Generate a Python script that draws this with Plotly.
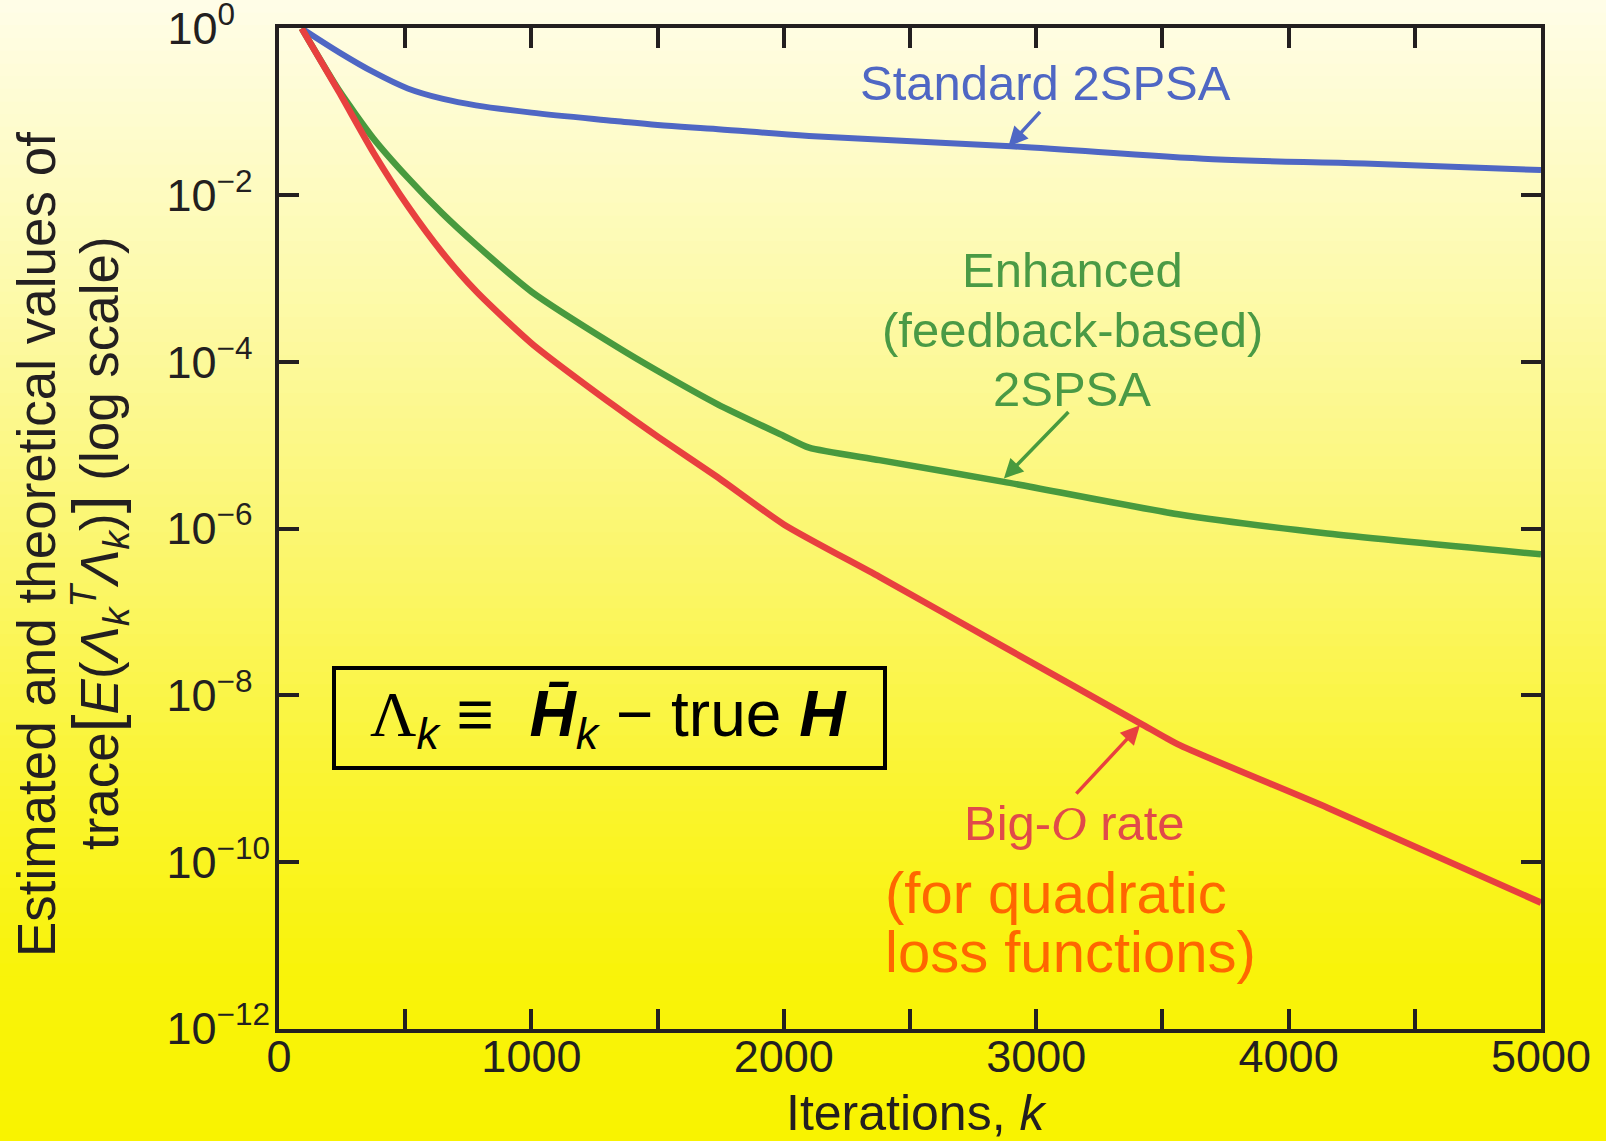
import math
import plotly.graph_objects as go

# ---------------- data ----------------
k_standard = [90, 240, 375, 510, 650, 780, 1000, 1330, 1500, 1740, 2100, 2900, 3700, 4300, 5000]
v_standard = [1.0, 0.513, 0.2985, 0.1905, 0.1426, 0.1194, 0.0977, 0.0776, 0.0692, 0.0617,
              0.0513, 0.0385, 0.0269, 0.0240, 0.0200]

k_enhanced = [90, 237, 374, 510, 647, 783, 1001, 1329, 1506, 1738, 2000, 2100, 2379, 2872, 3562, 4154, 5000]
v_enhanced = [1.0, 0.182, 0.0479, 0.0162, 6.03e-3, 2.51e-3, 6.92e-4, 1.58e-4, 7.59e-5, 3.09e-5,
              1.29e-5, 9.33e-6, 6.61e-6, 3.63e-6, 1.48e-6, 8.71e-7, 4.90e-7]

k_bigO = [90, 237, 374, 510, 647, 783, 1001, 1329, 1506, 1738, 2000, 2379, 2872, 3414, 3562, 4154, 5000]
v_bigO = [1.0, 0.174, 0.0324, 7.41e-3, 2.04e-3, 6.92e-4, 1.66e-4, 2.95e-5, 1.23e-5, 4.12e-6,
          1.12e-6, 2.63e-7, 3.80e-8, 4.57e-9, 2.57e-9, 4.47e-10, 3.24e-11]

x_tickvals = [0, 500, 1000, 1500, 2000, 2500, 3000, 3500, 4000, 4500, 5000]
x_ticktext = ["0", "", "1000", "", "2000", "", "3000", "", "4000", "", "5000"]
y_tickvals = [1, 1e-2, 1e-4, 1e-6, 1e-8, 1e-10, 1e-12]
FS = "\u2007"
y_ticktext = ["10<sup>0" + FS + FS + "</sup>", "10<sup>\u22122" + FS + "</sup>",
              "10<sup>\u22124" + FS + "</sup>", "10<sup>\u22126" + FS + "</sup>",
              "10<sup>\u22128" + FS + "</sup>", "10<sup>\u221210</sup>", "10<sup>\u221212</sup>"]

# arrow tips (k, value) for the labels
tip_standard = (2890, 0.0385)
tip_enhanced = (2872, 3.98e-6)
tip_bigO = (3411, 4.37e-9)

# ---------------- styling ----------------
FONT = "Liberation Sans, Arial, Helvetica, sans-serif"
INK = "#231f20"
BLUE = "#4f67c4"
GREEN = "#489a3e"
RED = "#e8403f"
RED_TXT = "#e04a4a"
ORANGE = "#ff6600"
GREEN_TXT = "#4a9a45"

W, H = 1606, 1141
L, R, T, B = 279, 1541, 28, 1029


def px(x):
    return (x - L) / (R - L)


def py(y):
    return (B - y) / (B - T)


fig = go.Figure()
fig.add_trace(go.Scatter(x=k_standard, y=v_standard, mode="lines",
                         line=dict(color=BLUE, width=6, shape="spline", smoothing=1.0),
                         showlegend=False, name="Standard 2SPSA"))
fig.add_trace(go.Scatter(x=k_enhanced, y=v_enhanced, mode="lines",
                         line=dict(color=GREEN, width=6.5, shape="spline", smoothing=0.6),
                         showlegend=False, name="Enhanced 2SPSA"))
fig.add_trace(go.Scatter(x=k_bigO, y=v_bigO, mode="lines",
                         line=dict(color=RED, width=6.5, shape="spline", smoothing=0.6),
                         showlegend=False, name="Big-O rate"))

# ---------------- background gradient ----------------
stops = [(0.0, (255, 253, 232)), (0.25, (253, 250, 172)), (0.5, (251, 246, 105)),
         (0.7, (250, 244, 45)), (0.85, (249, 243, 10)), (1.0, (249, 243, 0))]


def grad(t):
    for (t0, c0), (t1, c1) in zip(stops[:-1], stops[1:]):
        if t <= t1:
            f = (t - t0) / (t1 - t0)
            return "rgb(%d,%d,%d)" % tuple(round(a + (b - a) * f) for a, b in zip(c0, c1))
    return "rgb(%d,%d,%d)" % stops[-1][1]


shapes = []
N = 90
for i in range(N):
    y0 = H * i / N
    y1 = H * (i + 1) / N + 1
    shapes.append(dict(type="rect", xref="paper", yref="paper", layer="below",
                       x0=px(0), x1=px(W), y0=py(y1), y1=py(y0),
                       fillcolor=grad((i + 0.5) / N), line=dict(width=0)))

# definition box
shapes.append(dict(type="rect", xref="paper", yref="paper", layer="above",
                   x0=px(334), x1=px(885), y0=py(768), y1=py(668),
                   line=dict(color="black", width=4), fillcolor="rgba(0,0,0,0)"))

ann = []


def text(x, y, s, size, color, **kw):
    d = dict(x=px(x), y=py(y), xref="paper", yref="paper", text=s, showarrow=False,
             font=dict(family=FONT, size=size, color=color), xanchor="center", yanchor="middle")
    d.update(kw)
    ann.append(d)


# y-axis title (two lines)
text(37, 545, "Estimated and theoretical values of", 53, INK, textangle=-90)
text(98, 543, "trace<span style='font-size:64px'>[</span><i>E</i>(<i>\u039b</i><sub><i>k</i></sub>"
              "<sup><i>T</i></sup><i>\u039b</i><sub><i>k</i></sub>)<span style='font-size:64px'>]</span>"
              " (log scale)", 53, INK, textangle=-90)
# x-axis title
text(916, 1113, "Iterations, <i>k</i>", 50, INK)

# curve labels
text(1045, 83, "Standard 2SPSA", 49, BLUE)
text(1072, 270, "Enhanced", 49, GREEN_TXT)
text(1072, 330, "(feedback-based)", 49, GREEN_TXT)
text(1072, 389, "2SPSA", 49, GREEN_TXT)
text(1074, 824, "Big-<span style='font-family:Liberation Serif'><i>O</i></span> rate", 49, RED_TXT)
text(883, 892, "(for quadratic", 58, ORANGE, xanchor="left")
text(883, 951, "loss functions)", 58, ORANGE, xanchor="left")

# definition text
text(608, 718, "<span style='font-family:Liberation Serif'>\u039b</span><sub><i>k</i></sub> \u2261\u00a0 "
               "<b><i>H\u0304</i></b><sub><i>k</i></sub> \u2212 true <b><i>H</i></b>", 64, "black")


def arrow(tip, ax, ay, color):
    ann.append(dict(x=tip[0], y=math.log10(tip[1]), xref="x", yref="y", text="",
                    showarrow=True, ax=ax, ay=ay, arrowhead=2, arrowsize=1.1,
                    arrowwidth=3.5, arrowcolor=color, standoff=0, startstandoff=0))


arrow(tip_standard, 33, -36, BLUE)
arrow(tip_enhanced, 66, -68, GREEN)
arrow(tip_bigO, -65, 70, RED)

axis_common = dict(showline=True, linewidth=4, linecolor=INK, mirror="ticks",
                   ticks="inside", ticklen=20, tickwidth=4, tickcolor=INK,
                   showgrid=False, zeroline=False, ticklabeloverflow="allow",
                   automargin=False,
                   tickfont=dict(family=FONT, size=45, color=INK))

fig.update_layout(
    width=W, height=H,
    margin=dict(l=L, r=W - R, t=T, b=H - B, pad=0, autoexpand=False),
    paper_bgcolor="rgb(251,246,105)",
    plot_bgcolor="rgba(0,0,0,0)",
    xaxis=dict(range=[0, 5000], tickmode="array", tickvals=x_tickvals, ticktext=x_ticktext,
               ticklabelstandoff=-15, **axis_common),
    yaxis=dict(type="log", range=[-12.005, 0.005], tickmode="array", tickvals=y_tickvals,
               ticktext=y_ticktext, ticklabelstandoff=-4, **axis_common),
    shapes=shapes,
    annotations=ann,
)

fig.write_html("out.html", config={"displayModeBar": False},
               post_script="document.body.style.margin='0';document.body.style.overflow='hidden';")
